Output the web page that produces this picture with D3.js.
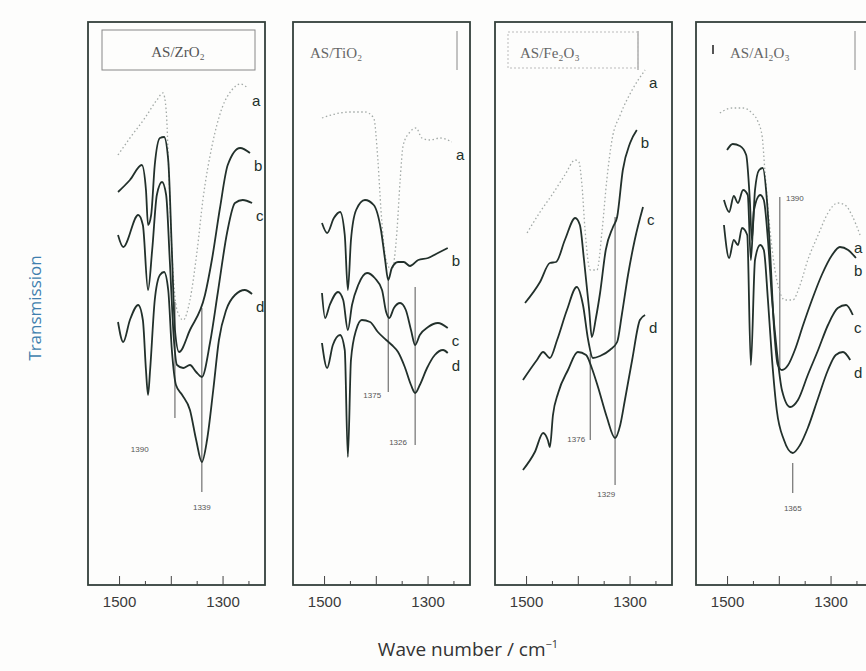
<!DOCTYPE html>
<html>
<head>
<meta charset="utf-8">
<script src="https://cdnjs.cloudflare.com/ajax/libs/d3/7.8.5/d3.min.js"></script>
<style>
  body { margin: 0; background: #fff; }
  svg { display: block; }
</style>
</head>
<body>
<svg id="chart"></svg>
<script>
// Panel titles and curve ids
const panelNames = ["AS/ZrO₂", "AS/TiO₂", "AS/Fe₂O₃", "AS/Al₂O₃"];
const curveIds = ["a", "b", "c", "d"];

// Wave number axis (cm-1), ticks and labelled ticks
const wnDomain = [1560, 1218];
const tickValues = [1500, 1450, 1400, 1350, 1300, 1250];
const tickLabels = [1500, 1300];

// Spectra: [wave number, transmission (arb. units)]
const zrA = [[1502,86],[1479,89.4],[1450,93.4],[1427,97],[1415,98.4],[1409,95],[1404,83],[1398,67],[1388,55],[1376,53],[1363,57],[1349,67],[1338,77],[1320,88],[1301,95.4],[1282,99],[1266,100.2],[1251,99.4]];
const zrB = [[1502,78.6],[1479,81],[1456,84],[1448,79],[1444,72],[1438,74],[1431,84],[1421,89.4],[1413,89.6],[1405,85],[1398,67],[1392,51],[1384,46.6],[1363,51],[1334,58],[1320,65.4],[1305,75.4],[1290,84],[1266,87.4],[1247,86.4]];
const zrC = [[1502,70],[1492,67.6],[1463,74],[1454,72],[1444,59],[1436,67],[1427,78],[1417,80.6],[1409,78],[1402,65],[1394,49],[1388,44],[1376,43.4],[1363,44],[1351,42.6],[1340,41.6],[1324,48.6],[1309,58.6],[1291,70.6],[1276,76.4],[1261,77],[1243,76.4]];
const zrD = [[1502,52.6],[1492,48.6],[1479,53],[1463,56],[1454,53],[1448,43],[1444,38],[1440,43],[1431,57],[1421,62],[1413,62.6],[1405,59],[1398,47],[1390,40],[1378,38],[1363,35],[1351,29],[1340,24.6],[1330,29],[1318,39],[1307,49],[1293,55],[1276,58],[1257,59],[1243,58.2]];

const tiA = [[1504,93.4],[1479,94.2],[1450,94.6],[1421,94.6],[1404,93.4],[1396,85],[1390,75],[1380,65],[1369,63],[1359,71],[1353,81],[1347,88],[1334,90.6],[1322,91.4],[1311,89.4],[1295,89],[1276,89.4],[1253,88.6]];
const tiB = [[1504,72.4],[1494,70.4],[1481,73.4],[1469,74.6],[1460,70],[1454,59],[1448,69],[1438,75],[1421,77],[1404,76],[1390,71],[1382,65],[1376,61],[1369,63.4],[1357,64.6],[1346,64.6],[1334,63.8],[1318,65],[1299,65.4],[1280,66.4],[1261,67.4]];
const tiC = [[1504,58.4],[1498,53.4],[1489,56],[1473,58.6],[1463,57],[1454,51],[1446,56],[1434,60],[1417,62.4],[1402,61.4],[1388,59],[1380,54.6],[1374,53.4],[1365,55.4],[1353,56.4],[1342,55],[1332,51],[1324,48],[1315,50],[1299,51.6],[1280,52.4],[1261,51.4]];
const tiD = [[1504,48.4],[1494,43.4],[1483,48],[1469,50],[1460,47],[1454,25.6],[1448,45],[1438,51],[1427,53],[1411,52.6],[1396,50.6],[1380,49],[1369,48],[1357,46.6],[1344,43.6],[1332,40],[1324,38.4],[1315,40],[1301,43.4],[1286,46],[1270,47],[1261,46.4]];

const feA = [[1498,70.4],[1473,74.6],[1450,78],[1425,82],[1405,85],[1398,84.6],[1392,80],[1386,71],[1376,63],[1363,63],[1353,71],[1344,81],[1334,89],[1318,94],[1295,99],[1270,103]];
const feB = [[1502,56.4],[1473,60.6],[1454,64.4],[1442,64.6],[1425,69],[1405,73.4],[1396,72],[1388,65],[1378,55],[1373,49.6],[1365,53.4],[1357,58.4],[1346,67],[1332,71.6],[1324,73.6],[1313,83],[1299,88.4],[1286,91]];
const feC = [[1506,41],[1479,45],[1467,46.6],[1454,45.4],[1440,49],[1421,55],[1402,59.6],[1390,56],[1380,49],[1371,45.4],[1357,45.8],[1338,47],[1324,48.6],[1315,54],[1303,62],[1290,69],[1274,75.6]];
const feD = [[1506,23],[1483,26.6],[1467,30.4],[1458,29],[1454,27.6],[1448,34],[1438,38.4],[1419,43],[1400,46.6],[1384,46],[1373,43.4],[1361,39.6],[1344,33.6],[1328,29.4],[1318,32],[1309,37],[1295,45],[1280,53],[1270,54]];

const alA = [[1514,94.4],[1490,95.4],[1469,95.4],[1452,94.4],[1440,92.6],[1432,89.6],[1427,83],[1417,71],[1404,61],[1388,57],[1373,57],[1359,60],[1344,65],[1324,70],[1305,74.4],[1286,76.4],[1272,76],[1259,74],[1243,70]];
const alB = [[1500,87],[1489,88.2],[1475,87.8],[1463,86],[1456,77],[1452,69],[1446,79],[1438,83],[1431,83.4],[1423,77],[1417,67],[1409,51],[1402,44],[1394,43],[1382,44],[1369,47],[1353,52],[1336,57],[1317,62],[1297,66],[1282,67.6],[1266,67],[1251,65.4]];
const alC = [[1506,77],[1496,74.6],[1487,77.8],[1479,76.4],[1469,79],[1460,78],[1454,65],[1448,75],[1436,78],[1429,77],[1421,69],[1413,57],[1404,47],[1394,39],[1378,35.6],[1363,37],[1344,42],[1324,47],[1305,52],[1286,55.4],[1270,56],[1257,54]];
const alD = [[1506,72],[1496,65.4],[1487,69],[1479,68],[1471,71.4],[1461,70],[1454,44],[1446,65],[1436,68],[1429,67],[1421,57],[1413,45],[1404,35],[1390,29],[1373,26.4],[1359,28],[1344,31.4],[1324,37.4],[1305,43],[1290,46],[1276,46.6],[1262,45]];

// Band markers: wave number, line top / bottom and label anchor (data units)
const zrBands = [
  { wn: 1392, hi: 56.6, lo: 33.4, text: "1390", at: [1460, 26.6] },
  { wn: 1340, hi: 55.4, lo: 18.6, text: "1339", at: [1340, 15] }
];
const tiBands = [
  { wn: 1376, hi: 61, lo: 38.6, text: "1375", at: [1407, 37.4] },
  { wn: 1324, hi: 59.6, lo: 28, text: "1326", at: [1357, 28] }
];
const feBands = [
  { wn: 1376, hi: 46.4, lo: 29, text: "1376", at: [1403, 28.6] },
  { wn: 1328, hi: 73.6, lo: 20, text: "1329", at: [1345, 17.6] }
];
const alBands = [
  { wn: 1398, hi: 77.6, lo: 43, text: "1390", at: [1369, 76.8] },
  { wn: 1373, hi: 24.4, lo: 18.4, text: "1365", at: [1373, 14.8] }
];

const panels = [
  { name: panelNames[0], curves: [zrA, zrB, zrC, zrD], bands: zrBands },
  { name: panelNames[1], curves: [tiA, tiB, tiC, tiD], bands: tiBands },
  { name: panelNames[2], curves: [feA, feB, feC, feD], bands: feBands },
  { name: panelNames[3], curves: [alA, alB, alC, alD], bands: alBands }
];

// Layout
const width = 866, height = 671;
const plotTop = 22, plotBottom = 585, panelW = 177;
const panelLeft = [88, 293, 495, 696];
const ink = "#22302b";

const svg = d3.select("#chart")
  .attr("width", width)
  .attr("height", height);

svg.append("rect")
  .attr("width", width)
  .attr("height", height)
  .attr("fill", "#fdfdfc");

const y = d3.scaleLinear().domain([0, 113]).range([plotBottom, 20]);

panels.forEach((p, i) => {
  const g = svg.append("g").attr("transform", `translate(${panelLeft[i]},0)`);
  const x = d3.scaleLinear().domain(wnDomain).range([0, panelW]);

  // frame
  g.append("rect")
    .attr("x", 0).attr("y", plotTop)
    .attr("width", panelW).attr("height", plotBottom - plotTop)
    .attr("fill", "none")
    .attr("stroke", "#34403b")
    .attr("stroke-width", 1.8);

  // title box
  if (i === 0) {
    g.append("rect")
      .attr("x", 14).attr("y", 30).attr("width", 153).attr("height", 40)
      .attr("fill", "none").attr("stroke", "#888").attr("stroke-width", 1);
    g.append("text")
      .attr("x", 90).attr("y", 57)
      .attr("text-anchor", "middle")
      .style("font-family", "Liberation Serif")
      .style("font-size", "15px")
      .attr("fill", "#555")
      .text(p.name);
  } else {
    const tx = [0, 17, 25, 34][i];
    const rx = [0, 164, 143, 159][i];
    g.append("line")
      .attr("x1", rx).attr("x2", rx).attr("y1", 31).attr("y2", 70)
      .attr("stroke", "#888").attr("stroke-width", 1);
    if (i === 2) {
      g.append("rect")
        .attr("x", 13).attr("y", 32).attr("width", rx - 13).attr("height", 36)
        .attr("fill", "none").attr("stroke", "#bbb")
        .attr("stroke-dasharray", "2,2");
    }
    if (i === 3) {
      g.append("line")
        .attr("x1", 17).attr("x2", 17).attr("y1", 45).attr("y2", 54)
        .attr("stroke", "#555").attr("stroke-width", 2);
    }
    g.append("text")
      .attr("x", tx).attr("y", 58)
      .style("font-family", "Liberation Serif")
      .style("font-size", "15px")
      .attr("fill", "#666")
      .text(p.name);
  }

  // bottom axis with inward ticks
  const axis = g.append("g")
    .attr("transform", `translate(0,${plotBottom})`)
    .call(d3.axisBottom(x)
      .tickValues(tickValues)
      .tickSize(-5)
      .tickPadding(11)
      .tickFormat(d => tickLabels.includes(d) ? d : ""));
  axis.select(".domain").remove();
  axis.selectAll(".tick line")
    .attr("stroke", "#444")
    .attr("y2", d => d % 100 === 0 ? -9 : -4);
  axis.selectAll(".tick text")
    .style("font-family", "Liberation Sans")
    .style("font-size", "15px")
    .attr("fill", "#3a3a3a");

  const line = d3.line()
    .x(d => x(d[0]))
    .y(d => y(d[1]))
    .curve(d3.curveMonotoneX);

  // band marker lines
  p.bands.forEach(b => {
    g.append("line")
      .attr("x1", x(b.wn)).attr("x2", x(b.wn))
      .attr("y1", y(b.hi)).attr("y2", y(b.lo))
      .attr("stroke", "#555").attr("stroke-width", 1);
    g.append("text")
      .attr("x", x(b.at[0])).attr("y", y(b.at[1]))
      .attr("text-anchor", "middle")
      .style("font-family", "Liberation Sans")
      .style("font-size", "8px")
      .attr("fill", "#555")
      .text(b.text);
  });

  // spectra
  p.curves.forEach((c, k) => {
    g.append("path")
      .datum(c)
      .attr("d", line)
      .attr("fill", "none")
      .attr("stroke", k === 0 ? "#a3aaa7" : ink)
      .attr("stroke-width", k === 0 ? 1.3 : 1.8)
      .attr("stroke-dasharray", k === 0 ? "1.5,2.5" : null);

    // curve letter just right of and below the end of the trace, kept inside the page
    const last = c[c.length - 1];
    const lx = Math.min(x(last[0]) + 4, width - 12 - panelLeft[i]);
    g.append("text")
      .attr("x", lx)
      .attr("y", y(last[1]) + 18)
      .style("font-family", "Liberation Sans")
      .style("font-size", "15px")
      .attr("fill", ink)
      .text(curveIds[k]);
  });
});

// axis titles
svg.append("text")
  .attr("transform", "translate(41,308) rotate(-90)")
  .attr("text-anchor", "middle")
  .style("font-family", "Open Sans")
  .style("font-size", "17px")
  .attr("fill", "#3f7fae")
  .text("Transmission");

const xt = svg.append("text")
  .attr("x", 468).attr("y", 656)
  .attr("text-anchor", "middle")
  .style("font-family", "Open Sans")
  .style("font-size", "19px")
  .attr("fill", "#333");
xt.append("tspan").text("Wave number / cm");
xt.append("tspan").attr("dy", -8).style("font-size", "11px").text("−1");
</script>
</body>
</html>
